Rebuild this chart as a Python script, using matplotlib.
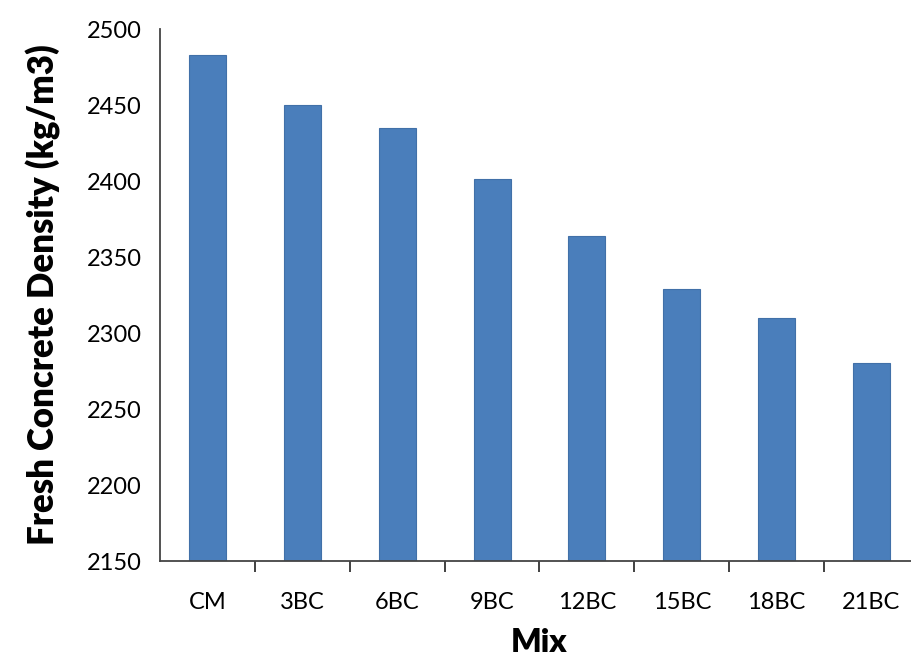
import numpy as np
import matplotlib.pyplot as plt

plt.rcParams['font.family'] = ['Lato', 'DejaVu Sans']

mixes = ['CM', '3BC', '6BC', '9BC', '12BC', '15BC', '18BC', '21BC']
density = [2483, 2450, 2435, 2401, 2364, 2329, 2310, 2280]

fig = plt.figure(figsize=(9.12, 6.58), dpi=100)
# axes run a little past the right edge, like the cropped original
ax = fig.add_axes([160 / 912, 1 - 561 / 658, 759 / 912, (561 - 29) / 658])

x = np.arange(len(mixes))
ax.bar(x, density, width=0.39, color='#4a7ebb', edgecolor='#4170a8',
       linewidth=0.8, zorder=2)

ax.set_xlim(-0.5, len(mixes) - 0.5)
ax.set_ylim(2150, 2500)
ax.set_yticks(np.arange(2150, 2501, 50))

# tick marks between categories, labels under the bars
ax.set_xticks(x[:-1] + 0.5)
ax.set_xticklabels([])
ax.set_xticks(x, minor=True)
ax.set_xticklabels(mixes, minor=True)
ax.tick_params(axis='x', which='major', direction='out', length=8,
               width=1.3, color='#333333')
ax.tick_params(axis='x', which='minor', length=0, pad=22, labelsize=17)
ax.tick_params(axis='y', length=0, pad=13, labelsize=17)

for side in ['top', 'right']:
    ax.spines[side].set_visible(False)
for side in ['left', 'bottom']:
    ax.spines[side].set_color('#444444')
    ax.spines[side].set_linewidth(1.3)

ax.set_ylabel('Fresh Concrete Density (kg/m3)', fontsize=25,
              fontweight='heavy', labelpad=19)
ax.set_xlabel('Mix', fontsize=23, fontweight='heavy', labelpad=11)

fig.savefig('out.png', dpi=100)
